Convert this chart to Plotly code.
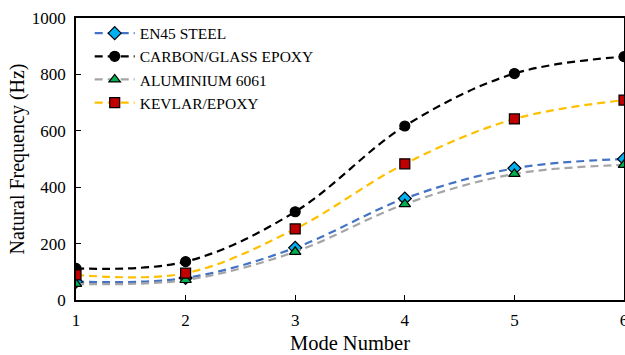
import plotly.graph_objects as go

modes = [1, 2, 3, 4, 5, 6]
steel = [65, 78, 185, 360, 467, 500]
carbon = [112, 136, 313, 617, 803, 863]
aluminium = [57, 71, 171, 340, 447, 479]
kevlar = [89, 95, 252, 483, 642, 709]

series = [
    ("EN45 STEEL", steel, "#4472C4", "diamond", "#00B0F0"),
    ("CARBON/GLASS EPOXY", carbon, "#000000", "circle", "#000000"),
    ("ALUMINIUM 6061", aluminium, "#A5A5A5", "triangle-up", "#00B050"),
    ("KEVLAR/EPOXY", kevlar, "#FFC000", "square", "#C00000"),
]

fig = go.Figure()
for name, vals, lc, sym, mc in series:
    fig.add_trace(go.Scatter(
        x=modes, y=vals, name=name, mode="lines+markers",
        line=dict(color=lc, width=2.2, dash="8px,5px", shape="spline", smoothing=1.0),
        marker=dict(symbol=sym, color=mc, size=10, line=dict(color="#000000", width=1.2)),
    ))

font = "Liberation Serif"
fig.update_layout(
    width=625, height=355,
    margin=dict(l=76, r=1, t=18, b=55),
    paper_bgcolor="white", plot_bgcolor="white",
    font=dict(family=font, color="#000000", size=17),
    showlegend=True,
    legend=dict(x=0.025, y=1.005, xanchor="left", yanchor="top",
                bgcolor="rgba(0,0,0,0)", font=dict(family=font, size=15.5),
                tracegroupgap=0, itemwidth=40),
    xaxis=dict(range=[1, 6], tickvals=modes, showgrid=False, zeroline=False,
               automargin=False, ticklabeloverflow="allow", ticklabelstandoff=4,
               showline=True, linecolor="#000000", linewidth=1.5, mirror=True,
               ticks="inside", ticklen=5, tickcolor="#000000",
               title=dict(text="Mode Number", font=dict(family=font, size=20.5), standoff=6),
               tickfont=dict(family=font, size=17)),
    yaxis=dict(range=[0, 1000], tickvals=[0, 200, 400, 600, 800, 1000], showgrid=False,
               automargin=False, ticklabelstandoff=5,
               zeroline=False, showline=True, linecolor="#000000", linewidth=1.5, mirror=True,
               ticks="inside", ticklen=5, tickcolor="#000000",
               title=dict(text="Natural Frequency (Hz)", font=dict(family=font, size=20), standoff=2),
               tickfont=dict(family=font, size=17)),
)

fig.write_html("out.html", config={"displayModeBar": False},
               post_script="document.body.style.margin='0';document.body.style.overflow='hidden';")
